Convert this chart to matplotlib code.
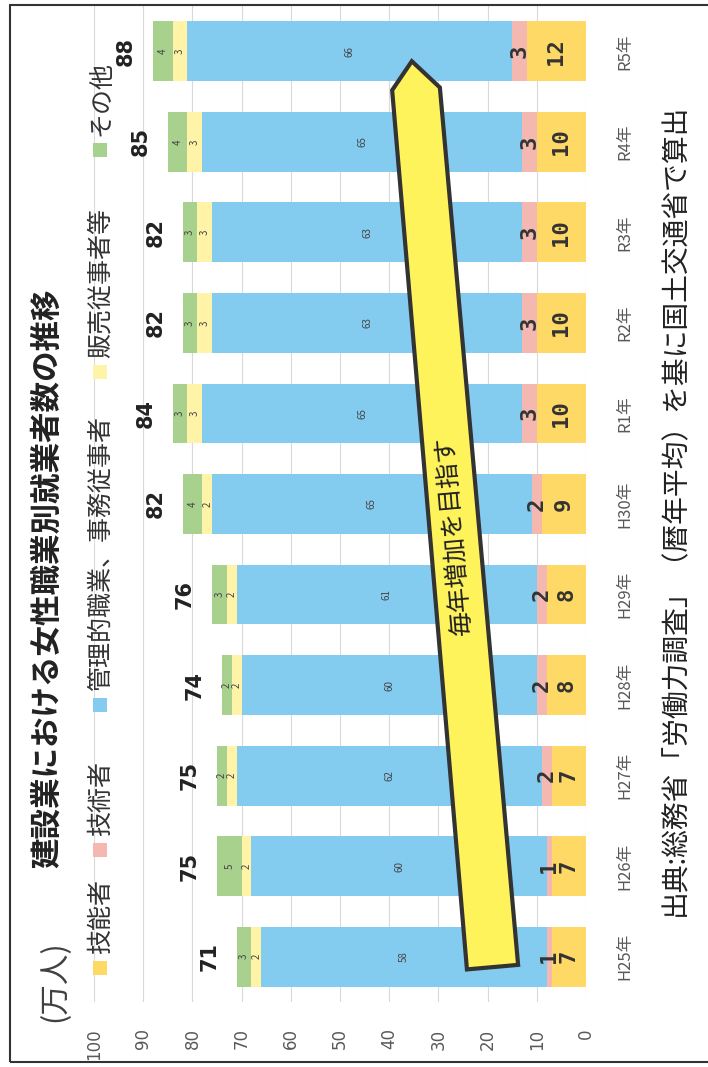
import matplotlib
matplotlib.use("Agg")
import matplotlib.pyplot as plt
from matplotlib.patches import Polygon, Rectangle
import numpy as np

plt.rcParams['font.family'] = ['Noto Sans CJK JP', 'DejaVu Sans']

# data
years = ['H25年', 'H26年', 'H27年', 'H28年', 'H29年', 'H30年',
         'R1年', 'R2年', 'R3年', 'R4年', 'R5年']
ginou = [7, 7, 7, 8, 8, 9, 10, 10, 10, 10, 12]        # 技能者
gijutsu = [1, 1, 2, 2, 2, 2, 3, 3, 3, 3, 3]           # 技術者
kanri = [58, 60, 62, 60, 61, 65, 65, 63, 63, 65, 66]  # 管理的職業、事務従事者
hanbai = [2, 2, 2, 2, 2, 2, 3, 3, 3, 3, 3]            # 販売従事者等
sonota = [3, 5, 2, 2, 3, 4, 3, 3, 3, 4, 4]            # その他
names = ['技能者', '技術者', '管理的職業、事務従事者', '販売従事者等', 'その他']
colors = ['#FFD966', '#F4B8B0', '#84CBF0', '#FFF3A8', '#A9D18E']
value_ticks = [0, 10, 20, 30, 40, 50, 60, 70, 80, 90, 100]

# arrow (value, year index)
arrow_pts = [(35.4, 9.89), (29.7, 9.60), (13.8, -0.09), (24.2, -0.14), (39.4, 9.57)]
arrow_text = '毎年増加を目指す'

W, H = 708, 1067
fig = plt.figure(figsize=(W / 100, H / 100), dpi=100)

def fx(x):
    return x / W

def fy(y):
    return 1 - y / H

ax = fig.add_axes([fx(94), fy(1002), fx(586) - fx(94), fy(6) - fy(1002)])

series = [ginou, gijutsu, kanri, hanbai, sonota]
idx = np.arange(len(years))
left = np.zeros(len(years))
for k, vals in enumerate(series):
    vals = np.array(vals)
    ax.barh(idx, vals, left=left, height=0.66, color=colors[k], zorder=2)
    for i in range(len(years)):
        c = left[i] + vals[i] / 2
        if k < 2:
            ax.text(c, idx[i], str(vals[i]), rotation=90, ha='center', va='center',
                    fontsize=16, fontweight='bold', color='#333333',
                    family='DejaVu Sans Mono', zorder=5)
        else:
            ax.text(c, idx[i], str(vals[i]), rotation=90, ha='center', va='center',
                    fontsize=7, color='#444444', zorder=3)
    left = left + vals

totals = left
for i in range(len(years)):
    ax.text(totals[i] + 5.5, idx[i], str(int(totals[i])), rotation=90,
            ha='center', va='center', fontsize=15, fontweight='bold',
            color='#222222', family='DejaVu Sans')

ax.set_xlim(100, 0)
ax.set_ylim(-0.5, 10.5)
ax.set_xticks(value_ticks)
ax.set_xticklabels([str(v) for v in value_ticks], rotation=90, fontsize=12,
                   color='#595959', family='DejaVu Sans')
ax.set_yticks(idx)
ax.set_yticklabels(years, rotation=90, fontsize=12, color='#595959', va='center')
ax.yaxis.tick_right()
ax.tick_params(axis='x', length=0, pad=19)
ax.tick_params(axis='y', length=0, pad=22)
ax.grid(axis='x', color='#D9D9D9', linewidth=0.8, zorder=0)
ax.set_axisbelow(True)
for s in ax.spines.values():
    s.set_visible(False)

# arrow
ax.add_patch(Polygon(arrow_pts, closed=True, facecolor='#FFF35C',
                     edgecolor='#333333', linewidth=3, zorder=6))
ax.text(26.8, 4.65, arrow_text, rotation=95, ha='center', va='center',
        fontsize=18, color='#222222', zorder=7)

# title / unit
fig.text(fx(47), fy(578), '建設業における女性職業別就業者数の推移', rotation=90,
         ha='center', va='center', fontsize=22, fontweight='bold', color='#222222')
fig.text(fx(55), fy(981), '(万人)', rotation=90, ha='center', va='center',
         fontsize=22, color='#404040')

# legend
sq_y = [968, 850, 705, 372, 150]
for k in range(len(names)):
    fig.patches.append(Rectangle((fx(93), fy(sq_y[k] + 7)), fx(14), 14 / H,
                                 transform=fig.transFigure, facecolor=colors[k],
                                 edgecolor='none'))
    fig.text(fx(101), fy(sq_y[k] - 14), names[k], rotation=90, ha='center',
             va='bottom', fontsize=18, color='#333333')

# source
fig.text(fx(675), fy(510), '出典:総務省「労働力調査」（暦年平均）を基に国土交通省で算出',
         rotation=90, ha='center', va='center', fontsize=20, color='#222222')

# frame
fig.patches.append(Rectangle((fx(10), fy(1062)), fx(730), (1062 - 5) / H,
                             transform=fig.transFigure, facecolor='none',
                             edgecolor='#333333', linewidth=1.5))

fig.savefig('out.png', dpi=100)
